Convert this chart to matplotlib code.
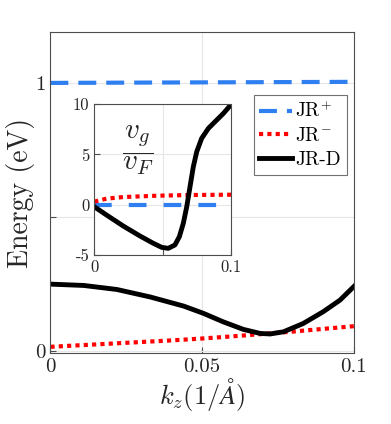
import matplotlib
matplotlib.use("Agg")
from matplotlib import pyplot as plt

plt.rcParams['font.family'] = ['cmr10', 'DejaVu Serif']
plt.rcParams['mathtext.fontset'] = 'cm'
plt.rcParams['axes.formatter.use_mathtext'] = True

# main panel: energy bands
k_plus = [0.0, 0.1]
e_plus = [1.0, 1.004]

k_minus = [0.0, 0.02, 0.04, 0.05, 0.06, 0.07, 0.08, 0.09, 0.1]
e_minus = [0.015, 0.027, 0.039, 0.046, 0.054, 0.063, 0.072, 0.082, 0.092]

k_d = [0.0, 0.011, 0.0219, 0.0329, 0.0439, 0.0504, 0.057, 0.0636, 0.0691,
       0.0724, 0.0768, 0.0833, 0.0899, 0.0954, 0.1]
e_d = [0.249, 0.244, 0.229, 0.201, 0.167, 0.140, 0.108, 0.080, 0.065,
       0.063, 0.071, 0.102, 0.146, 0.189, 0.240]

# inset: group velocity
kv_plus = [0.0, 0.1]
v_plus = [0.0, 0.0]

kv_minus = [0.0, 0.009, 0.0212, 0.0456, 0.07, 0.1]
v_minus = [0.3, 0.6, 0.76, 0.89, 0.96, 0.99]

kv_d = [0.0, 0.009, 0.0212, 0.0334, 0.0432, 0.0493, 0.0541, 0.059, 0.0622,
        0.0651, 0.0676, 0.07, 0.0724, 0.0749, 0.0785, 0.0834, 0.0895,
        0.0944, 0.1]
v_d = [-0.2, -1.03, -2.12, -3.11, -3.84, -4.24, -4.34, -4.0, -3.18,
       -1.85, -0.2, 1.79, 3.77, 5.26, 6.59, 7.58, 8.41, 9.07, 9.95]

blue = '#2f7ff0'
red = '#ff0000'
txt = '#262626'


def style_axes(ax):
    for s in ax.spines.values():
        s.set_color('#4d4d4d')
        s.set_linewidth(0.8)
    ax.tick_params(direction='in', length=4, colors='#4d4d4d', labelcolor=txt)
    ax.grid(True, color='#e6e6e6', linewidth=0.8)
    ax.set_axisbelow(True)


fig = plt.figure(figsize=(3.91, 4.24), dpi=100)
ax = fig.add_axes([0.129, 0.1675, 0.776, 0.757])

ax.plot(k_plus, e_plus, color=blue, lw=3, linestyle=(0, (4.3, 2.4)),
        dash_capstyle='butt', label=r'$\mathrm{JR}^{+}$')
ax.plot(k_minus, e_minus, color=red, lw=3, linestyle=(0, (1, 1)),
        dash_capstyle='butt', label=r'$\mathrm{JR}^{-}$')
ax.plot(k_d, e_d, color='black', lw=3.5, solid_joinstyle='round',
        label='JR-D')

ax.set_xlim(0, 0.1)
ax.set_ylim(-0.008, 1.19)
ax.set_xticks([0, 0.05, 0.1])
ax.set_xticklabels(['0', '0.05', '0.1'], fontsize=15)
ax.set_yticks([0, 0.5, 1])
ax.set_yticklabels(['0', '', '1'], fontsize=15)
ax.set_xlabel(r'$k_z(1/\AA)$', fontsize=19, color=txt, labelpad=0)
ax.set_ylabel('Energy (eV)', fontsize=20, color=txt, labelpad=0)
style_axes(ax)

leg = ax.legend(loc='upper right', bbox_to_anchor=(0.887, 0.776),
                bbox_transform=fig.transFigure, borderaxespad=0,
                fontsize=14, frameon=True, fancybox=False, handlelength=1.7,
                handletextpad=0.15, borderpad=0.3, labelspacing=0.3)
leg.get_frame().set_edgecolor('#4d4d4d')
leg.get_frame().set_linewidth(0.8)

ins = fig.add_axes([0.241, 0.3986, 0.350, 0.356])
ins.plot(kv_plus, v_plus, color=blue, lw=3, linestyle=(0, (4.25, 4.1)),
         dash_capstyle='butt')
ins.plot(kv_minus, v_minus, color=red, lw=3, linestyle=(0, (1, 1)),
         dash_capstyle='butt')
ins.plot(kv_d, v_d, color='black', lw=3.5, solid_joinstyle='round')
ins.set_xlim(0, 0.1)
ins.set_ylim(-5, 10)
ins.set_xticks([0, 0.05, 0.1])
ins.set_xticklabels(['0', '', '0.1'], fontsize=12)
ins.set_yticks([-5, 0, 5, 10])
ins.set_yticklabels(['-5', '0', '5', '10'], fontsize=12)
style_axes(ins)
ins.text(0.032, 5.4, r'$\dfrac{v_g}{v_F}$', fontsize=21, color=txt,
         ha='center', va='center')

fig.savefig('out.png', dpi=100)
